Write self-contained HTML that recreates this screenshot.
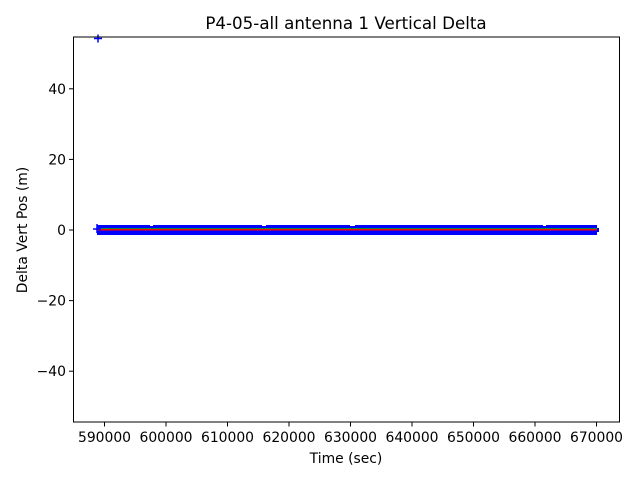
<!DOCTYPE html>
<html><head><meta charset="utf-8"><style>body{margin:0;background:#fff}</style></head>
<body>
<svg width="640" height="480" xmlns="http://www.w3.org/2000/svg" font-family="DejaVu Sans, Liberation Sans, sans-serif">
<rect width="640" height="480" fill="#fff"/>
<text x="346" y="29" font-size="16.7" text-anchor="middle">P4-05-all antenna 1 Vertical Delta</text>
<rect x="97" y="225" width="500" height="10" fill="#0000ff"/>
<rect x="594" y="228" width="5" height="4" fill="#0000ff"/>
<g fill="#fff">
<rect x="150" y="225" width="3" height="1"/><rect x="262" y="225" width="4" height="1"/><rect x="350" y="225" width="5" height="1"/><rect x="543" y="225" width="3" height="1"/></g>
<line x1="97" y1="228.6" x2="597" y2="228.6" stroke="#00c000" stroke-width="0.8"/>
<line x1="97" y1="229.8" x2="597" y2="229.8" stroke="#ff0000" stroke-width="1.5"/>
<path d="M94 38.5h8M98 34.5v8M93 229h8M97 224v9" stroke="#0000ff" stroke-width="1.5"/>
<rect x="73.5" y="37" width="546" height="385" fill="none" stroke="#000" stroke-width="1"/>
<g stroke="#000">
<line x1="69" x2="73.5" y1="88.8" y2="88.8"/><line x1="69" x2="73.5" y1="159.4" y2="159.4"/><line x1="69" x2="73.5" y1="230" y2="230"/><line x1="69" x2="73.5" y1="300.6" y2="300.6"/><line x1="69" x2="73.5" y1="371.2" y2="371.2"/>
</g>
<g font-size="13.9" text-anchor="end">
<text x="66" y="93.8">40</text><text x="66" y="164.4">20</text><text x="66" y="235">0</text><text x="66" y="305.6">−20</text><text x="66" y="376.2">−40</text>
</g>
<g stroke="#000">
<line y1="422" y2="426.5" x1="104.5" x2="104.5"/><line y1="422" y2="426.5" x1="166" x2="166"/><line y1="422" y2="426.5" x1="227.5" x2="227.5"/><line y1="422" y2="426.5" x1="289" x2="289"/><line y1="422" y2="426.5" x1="350.5" x2="350.5"/><line y1="422" y2="426.5" x1="412" x2="412"/><line y1="422" y2="426.5" x1="473.5" x2="473.5"/><line y1="422" y2="426.5" x1="535" x2="535"/><line y1="422" y2="426.5" x1="596.5" x2="596.5"/>
</g>
<g font-size="13.9" text-anchor="middle">
<text x="104.5" y="442">590000</text><text x="166" y="442">600000</text><text x="227.5" y="442">610000</text><text x="289" y="442">620000</text><text x="350.5" y="442">630000</text><text x="412" y="442">640000</text><text x="473.5" y="442">650000</text><text x="535" y="442">660000</text><text x="596.5" y="442">670000</text>
</g>
<text x="346" y="463" font-size="13.9" text-anchor="middle">Time (sec)</text>
<text transform="translate(27,230) rotate(-90)" font-size="13.9" text-anchor="middle">Delta Vert Pos (m)</text>
</svg>
</body></html>
